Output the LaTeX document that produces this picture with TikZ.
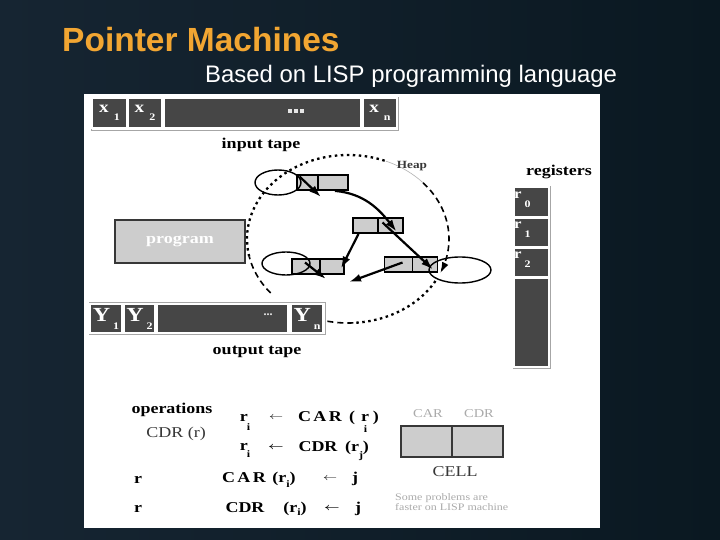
\documentclass[tikz,border=0pt]{standalone}
\usepackage{fontspec}
\usepackage{graphicx}
\setmainfont{Liberation Serif}
\newfontfamily\titlefont{Liberation Sans}
\newfontfamily\wide[FakeStretch=1.2]{Liberation Serif}
\usetikzlibrary{arrows.meta,shapes.geometric}
\definecolor{bgA}{RGB}{22,37,50}
\definecolor{bgB}{RGB}{10,24,33}
\definecolor{titleor}{RGB}{242,166,50}
\definecolor{tapegray}{RGB}{70,70,70}
\definecolor{cellgray}{RGB}{205,205,205}
\definecolor{lightlab}{RGB}{170,170,170}
\definecolor{darklab}{RGB}{55,55,55}
\newcommand{\myfs}[1]{\fontsize{#1}{#1}\selectfont}
\newcommand{\thinarr}{\scalebox{1.4}[1]{$\leftarrow$}}
\newcommand{\boldarr}{\scalebox{1.35}[1]{\boldmath$\leftarrow$}}
\begin{document}
\begin{tikzpicture}[x=1pt,y=-1pt,
  tapecell/.style={draw=white, line width=1.6pt, fill=tapegray, inner sep=0, text=white, font={\wide\bfseries\myfs{16}}},
  ycell/.style={tapecell, font={\wide\bfseries\myfs{20}}},
  heapcell/.style={draw=black, line width=1.8pt, fill=cellgray, inner sep=0},
  loopell/.style={draw=black, line width=1.4pt, ellipse, inner sep=0},
  ptr/.style={line width=2.2pt, -{Latex[length=12pt,width=8pt]}},
  lab/.style={inner sep=0, font={\wide\bfseries\myfs{15}}},
  reglabel/.style={anchor=north west, inner sep=0, text=white, font={\wide\bfseries\myfs{14}}},
  heapdot/.style={line width=2.3pt, dash pattern=on 2.5pt off 3.5pt},
  heapdash/.style={line width=1.6pt, dash pattern=on 6pt off 4pt},
]
% background and panel
\shade[left color=bgA, right color=bgB] (0,0) rectangle (720,540);
\useasboundingbox (0,0) rectangle (720,540);
\fill[white] (84,94) rectangle (600,528);

% titles
\node[anchor=base west, inner sep=0, text=titleor, font={\titlefont\bfseries\myfs{33.5}}] (title) at (62,52) {Pointer Machines};
\node[anchor=base west, inner sep=0, text=white, font={\titlefont\myfs{23.9}}] (subtitle) at (205,83) {Based on LISP programming language};

% input tape
\draw[gray!70, line width=0.8pt] (91,97) rectangle (398,130);
\node[tapecell, minimum width=35, minimum height=30] (x1) at (109.5,113) {x\raisebox{-8pt}{\myfs{10}\hspace{5pt}1}};
\node[tapecell, minimum width=34, minimum height=30] (x2) at (145,113) {x\raisebox{-8pt}{\myfs{10}\hspace{5pt}2}};
\node[tapecell, minimum width=197, minimum height=30] (xm) at (262.5,113) {};
\node[tapecell, minimum width=34, minimum height=30] (xn) at (380,113) {x\raisebox{-8pt}{\myfs{10}\hspace{5pt}n}};
\node[inner sep=0, text=white!80!gray] (xdots) at (296,111) {\rule{4pt}{4pt}\hspace{2pt}\rule{4pt}{4pt}\hspace{2pt}\rule{4pt}{4pt}};
\node[lab] (intape) at (261,145) {input tape};

% output tape
\draw[gray!70, line width=0.8pt] (89,302) rectangle (325,334);
\node[ycell, minimum width=32, minimum height=29] (y1) at (106,318.5) {Y\raisebox{-8pt}{\myfs{10}\hspace{3pt}1}};
\node[ycell, minimum width=31, minimum height=29] (y2) at (139.5,318.5) {Y\raisebox{-8pt}{\myfs{10}\hspace{3pt}2}};
\node[tapecell, minimum width=131, minimum height=29] (ym) at (222.5,318.5) {};
\node[ycell, minimum width=32, minimum height=29] (yn) at (307,318.5) {Y\raisebox{-8pt}{\myfs{10}\hspace{3pt}n}};
\node[inner sep=0, text=white!85!gray, font={\bfseries\myfs{12}}] (ydots) at (268,315) {...};
\node[lab] (outtape) at (257,352) {output tape};

% program
\node[draw=darklab, line width=1.8pt, fill=cellgray, minimum width=130, minimum height=43, inner sep=0, text=white, font={\wide\bfseries\myfs{15}}] (prog) at (180,241.5) {program};

% registers
\node[lab] (reglab) at (559,172) {registers};
\draw[gray!70, line width=0.8pt] (513,186) rectangle (550,368);
\node[tapecell, minimum width=35, minimum height=30] (r0) at (531.5,202) {};
\node[tapecell, minimum width=35, minimum height=29] (r1) at (531.5,232.5) {};
\node[tapecell, minimum width=35, minimum height=29] (r2) at (531.5,262.5) {};
\node[tapecell, minimum width=35, minimum height=89] (rr) at (531.5,322.5) {};
\node[reglabel] (r0t) at (514,192) {r\raisebox{-9pt}{\myfs{10}\hspace{3pt}0}};
\node[reglabel] (r1t) at (514,222) {r\raisebox{-9pt}{\myfs{10}\hspace{3pt}1}};
\node[reglabel] (r2t) at (514,252) {r\raisebox{-9pt}{\myfs{10}\hspace{3pt}2}};

% heap outline
\draw[heapdot] plot[domain=168:292, samples=60] ({348+101*cos(\x)},{239+84*sin(\x)});
\draw[gray!60, line width=0.6pt] plot[domain=292:318, samples=15] ({348+101*cos(\x)},{239+84*sin(\x)});
\draw[heapdash, -{Latex[length=11pt,width=7pt]}] plot[domain=318:384, samples=40] ({348+101*cos(\x)},{239+84*sin(\x)});
\draw[heapdot] plot[domain=30:87, samples=30] ({348+101*cos(\x)},{239+84*sin(\x)});
\draw[heapdash] plot[domain=87:104, samples=15] ({348+101*cos(\x)},{239+84*sin(\x)});
\draw[heapdash] plot[domain=140:168, samples=15] ({348+101*cos(\x)},{239+84*sin(\x)});
\node[inner sep=0, text=darklab, font={\wide\bfseries\myfs{11}}] (heaplab) at (412,166) {Heap};

% heap cells
\node[heapcell, minimum width=21, minimum height=15] (cAl) at (307.5,182.5) {};
\node[heapcell, minimum width=30, minimum height=15] (cAr) at (333,182.5) {};
\node[heapcell, minimum width=25, minimum height=15] (cBl) at (365.5,225.5) {};
\node[heapcell, minimum width=25, minimum height=15] (cBr) at (390.5,225.5) {};
\node[heapcell, minimum width=28, minimum height=15] (cCl) at (306,266.5) {};
\node[heapcell, minimum width=24, minimum height=15] (cCr) at (332,266.5) {};
\node[heapcell, minimum width=28, minimum height=15] (cDl) at (398.5,264.5) {};
\node[heapcell, minimum width=25, minimum height=15] (cDr) at (425,264.5) {};

% loops
\node[loopell, minimum width=46, minimum height=25] (e1) at (278,182.5) {};
\node[loopell, minimum width=48, minimum height=23] (e2) at (286,263.5) {};
\node[loopell, minimum width=62, minimum height=26] (e3) at (460,270) {};

% pointers
\coordinate (t1) at (321,197);
\coordinate (t5) at (326,279);
\coordinate (t6) at (349,282);
\draw[ptr] ([shift={(-8,-6)}]cAl.center) -- (t1);
\draw[ptr] ([shift={(2,0)}]cAr.south) to[out=-5,in=128] ([shift={(6,6)}]cBr.center);
\draw[ptr] ([shift={(-8,-3)}]cBr.center) -- ([shift={(8,5)}]cDr.center);
\draw[ptr] ([shift={(-7,0)}]cBl.south) -- ([shift={(9,2)}]cCr.center);
\draw[ptr] ([shift={(-1,-4)}]cCl.center) -- (t5);
\draw[ptr] ([shift={(4,-2)}]cDl.center) -- (t6);

% operations
\node[lab] (ops) at (172,410) {operations};
\node[lab, text=darklab, font={\wide\myfs{15}}] (cdrr) at (176,434) {CDR (r)};

\node[lab, anchor=base] (a1) at (245,421) {r\hspace{-1pt}\raisebox{-9pt}{\myfs{10}i}};
\node[inner sep=0] (a1a) at (276,418) {\thinarr};
\node[lab, anchor=base] (a1c) at (320,421) {C\,A\,R};
\node[lab, anchor=base] (a1p) at (364,421) {(\hspace{6pt}r\rlap{\hspace{-5pt}\raisebox{-11pt}{\myfs{10}i}}\hspace{4pt})};

\node[lab, anchor=base] (a2) at (245,450) {r\hspace{-1pt}\raisebox{-7pt}{\myfs{10}i}};
\node[inner sep=0] (a2a) at (276,448) {\boldarr};
\node[lab, anchor=base] (a2c) at (318,451) {CDR};
\node[lab, anchor=base] (a2p) at (357,451) {(r\raisebox{-7pt}{\myfs{10}j})};

\node[lab, anchor=base] (b1) at (138,483) {r};
\node[lab, anchor=base] (b1c) at (244,482) {C\,A\,R};
\node[lab, anchor=base] (b1p) at (284,482) {(r\raisebox{-5pt}{\myfs{10}i})};
\node[inner sep=0] (b1a) at (330,479) {\thinarr};
\node[lab, anchor=base] (b1j) at (355,482) {j};

\node[lab, anchor=base] (b2) at (138,512) {r};
\node[lab, anchor=base] (b2c) at (245,512) {CDR};
\node[lab, anchor=base] (b2p) at (295,512) {(r\raisebox{-3pt}{\myfs{10}i})};
\node[inner sep=0] (b2a) at (332,509) {\boldarr};
\node[lab, anchor=base] (b2j) at (358,512) {j};

% cell legend
\node[inner sep=0, text=lightlab, font={\wide\myfs{12}}] (carl) at (428,414) {CAR};
\node[inner sep=0, text=lightlab, font={\wide\myfs{12}}] (cdrl) at (479,414) {CDR};
\node[draw=darklab, line width=2.2pt, fill=cellgray, minimum width=51, minimum height=31, inner sep=0] (cellL) at (426.5,441.5) {};
\node[draw=darklab, line width=2.2pt, fill=cellgray, minimum width=51, minimum height=31, inner sep=0] (cellR) at (477.5,441.5) {};
\node[inner sep=0, text=darklab, font={\wide\myfs{15}}] (celllab) at (455,472) {CELL};
\node[inner sep=0, text=lightlab, font={\wide\myfs{10}}, align=left, anchor=west] (note) at (395,502) {Some problems are\\[0pt]faster on LISP machine};
\end{tikzpicture}
\end{document}
